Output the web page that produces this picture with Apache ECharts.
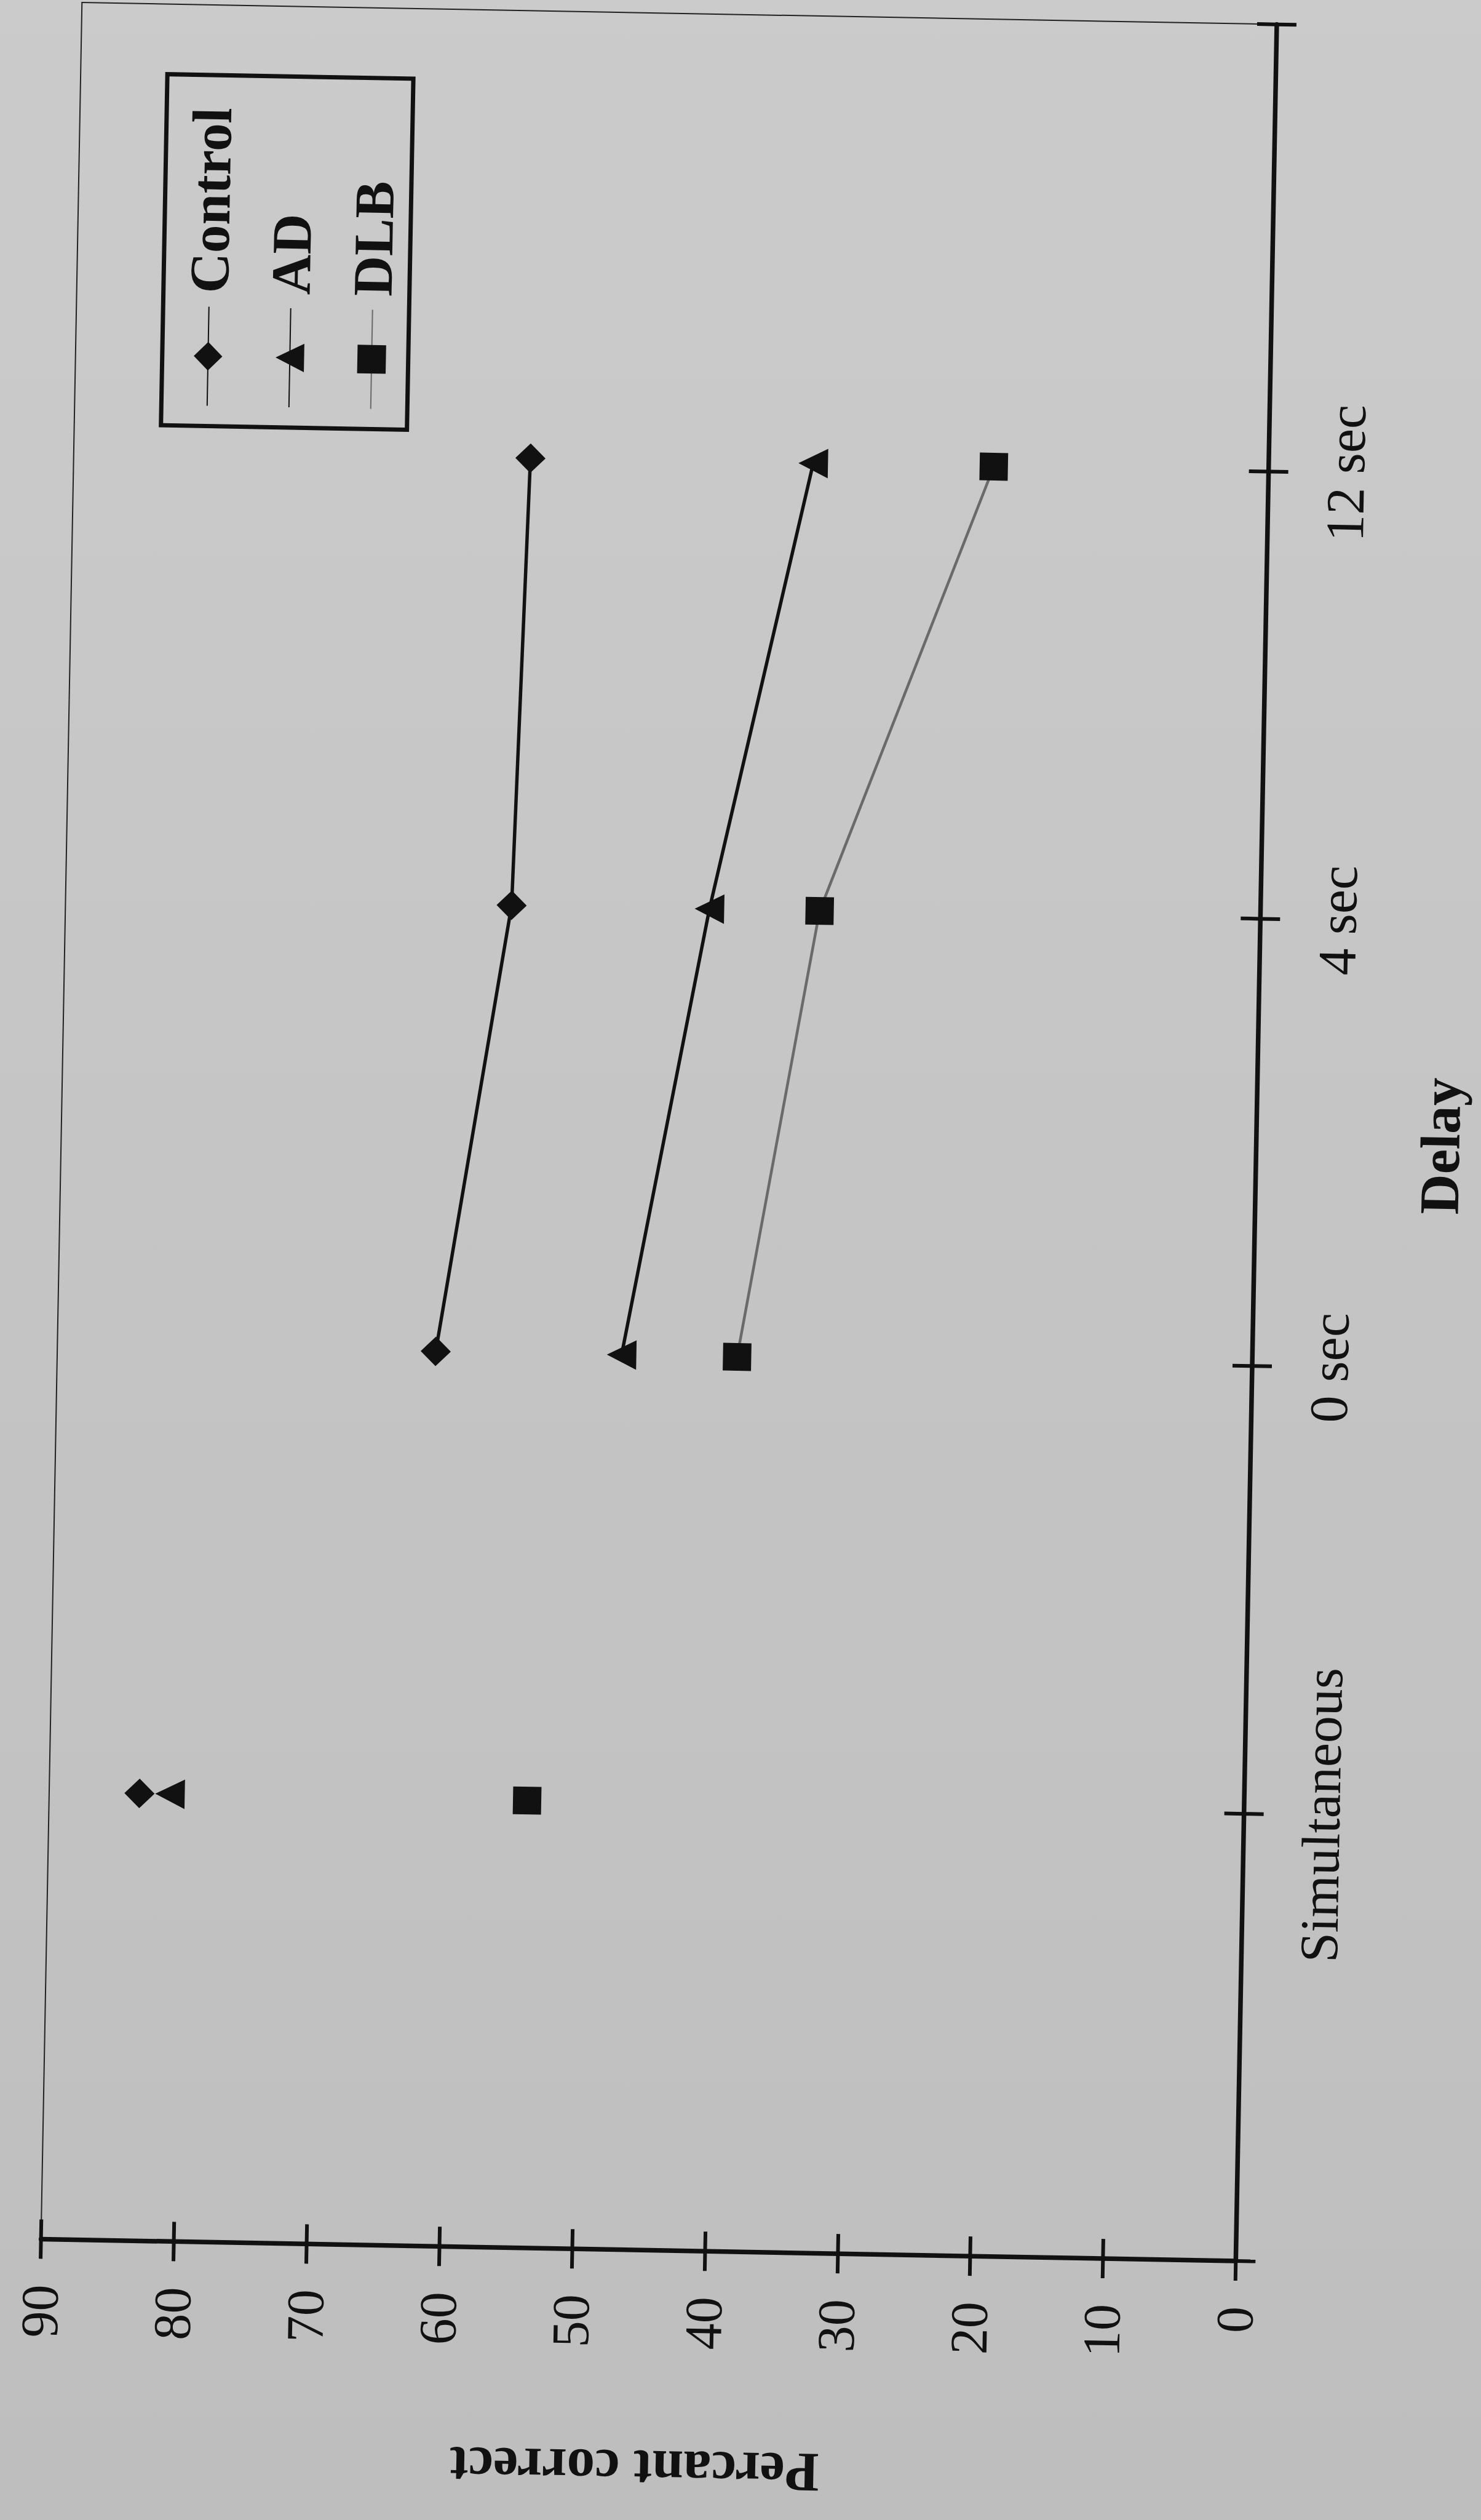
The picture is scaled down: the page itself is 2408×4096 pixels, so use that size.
<!DOCTYPE html>
<html>
<head>
<meta charset="utf-8">
<script src="https://cdn.jsdelivr.net/npm/echarts@6/dist/echarts.min.js"></script>
<style>
html,body{margin:0;padding:0;width:2408px;height:4096px;overflow:hidden;
  background:linear-gradient(#cbcbcb,#c4c4c4 55%,#bebebe);}
#chart{position:absolute;left:-844px;top:844px;width:4096px;height:2408px;
  transform:rotate(-88.95deg);transform-origin:50% 50%;}
</style>
</head>
<body>
<div id="chart"></div>
<script>
// ---- data ----
const categories = ['', 'Simultaneous', '0 sec', '4 sec', '12 sec', ''];
const seriesNames = ['Control', 'AD', 'DLB'];
const controlValues = [null, 83.2, 61.5, 56.4, 55.6, null];
const adValues      = [null, 80.9, 47.5, 41.5, 34.3, null];
const dlbValues     = [null, 54.0, 38.8, 33.2, 20.7, null];
const valueMin = 0, valueMax = 90, valueStep = 10;
const valueAxisTitle = 'Percant correct';
const categoryAxisTitle = 'Delay';

// Simultaneous point is plotted on its own; delays are joined by a line
function delayPart(arr) { return arr.map((v, i) => (i >= 2 ? v : null)); }
function simPart(arr) { return arr.map((v, i) => (i === 1 ? v : null)); }

const FONT = "'Liberation Serif','Times New Roman',serif";
const INK = '#111';

const styles = {
  Control: { symbol: 'diamond',  size: [48, 49], line: INK, width: 5.5 },
  AD:      { symbol: 'triangle', size: [48, 48], line: INK, width: 5.5 },
  DLB:     { symbol: 'rect',     size: [45, 46], line: '#6a6a6a', width: 4.5 }
};
const valuesByName = { Control: controlValues, AD: adValues, DLB: dlbValues };

const series = [];
seriesNames.forEach(n => {
  const st = styles[n];
  series.push({
    name: n, type: 'line', data: delayPart(valuesByName[n]),
    symbol: st.symbol, symbolSize: st.size, showAllSymbol: true,
    itemStyle: { color: INK }, lineStyle: { color: st.line, width: st.width },
    connectNulls: false, z: 3
  });
});
seriesNames.forEach(n => {
  const st = styles[n];
  series.push({
    name: n, type: 'line', data: simPart(valuesByName[n]),
    symbol: st.symbol, symbolSize: st.size, showAllSymbol: true,
    itemStyle: { color: INK }, lineStyle: { color: st.line, width: st.width },
    z: 3
  });
});

const chart = echarts.init(document.getElementById('chart'), null, { renderer: 'svg' });
chart.setOption({
  animation: false,
  backgroundColor: 'transparent',
  grid: { left: 436, right: 24, top: 96, bottom: 369, show: true,
          borderColor: '#222', borderWidth: 2, containLabel: false },
  legend: {
    data: seriesNames, orient: 'vertical', right: 138, top: 237,
    itemWidth: 161, itemHeight: 58, itemGap: 42,
    padding: [29, 53, 14, 32],
    borderColor: INK, borderWidth: 7, backgroundColor: 'transparent',
    textStyle: { fontFamily: FONT, fontSize: 91, fontWeight: 'bold', color: INK,
                 lineHeight: 58, padding: [0, 0, 0, 17] }
  },
  xAxis: [{
    type: 'category', data: categories, boundaryGap: false,
    axisLine: { show: true, lineStyle: { color: INK, width: 7.5 } },
    axisTick: { show: true, interval: 0, length: 32, lineStyle: { color: INK, width: 6 } },
    axisLabel: { interval: 0, margin: 82, fontSize: 88, fontFamily: FONT, color: INK },
    splitLine: { show: false },
    name: categoryAxisTitle, nameLocation: 'middle', nameGap: 254,
    nameTextStyle: { fontSize: 91, fontWeight: 'bold', fontFamily: FONT, color: INK }
  }, {
    type: 'category', data: categories, boundaryGap: false, position: 'bottom',
    axisLine: { show: false },
    axisTick: { show: true, inside: true, interval: 0, length: 32, lineStyle: { color: INK, width: 6 } },
    axisLabel: { show: false }, splitLine: { show: false }
  }],
  yAxis: [{
    type: 'value', min: valueMin, max: valueMax, interval: valueStep,
    axisLine: { show: true, lineStyle: { color: INK, width: 7.5 } },
    axisTick: { show: true, length: 32, lineStyle: { color: INK, width: 6 } },
    axisLabel: { margin: 74, fontSize: 86, fontFamily: FONT, color: INK },
    splitLine: { show: false },
    name: valueAxisTitle, nameLocation: 'middle', nameRotate: 90, nameGap: 311,
    nameTextStyle: { fontSize: 91, fontWeight: 'bold', fontFamily: FONT, color: INK }
  }, {
    type: 'value', min: valueMin, max: valueMax, interval: valueStep, position: 'left',
    axisLine: { show: false },
    axisTick: { show: true, inside: true, length: 32, lineStyle: { color: INK, width: 6 } },
    axisLabel: { show: false }, splitLine: { show: false }
  }],
  series: series
});
</script>
</body>
</html>
